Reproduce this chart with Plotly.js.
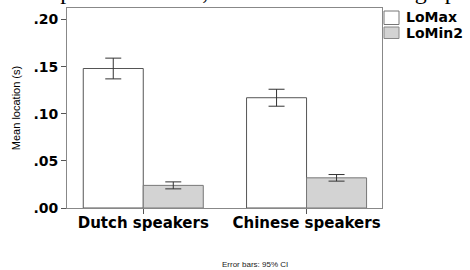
<!DOCTYPE html>
<html><head><meta charset="utf-8">
<script src="https://cdn.plot.ly/plotly-3.0.1.min.js"></script>
<style>html,body{margin:0;padding:0;background:#fff;}#chart{width:470px;height:270px;}</style>
</head><body><div id="chart"></div>
<script>
const categories = ["Dutch speakers", "Chinese speakers"];
const seriesNames = ["LoMax", "LoMin2"];
const seriesColors = ["#ffffff", "#d3d3d3"];
const loMax = [0.148, 0.117];
const loMaxErr = [0.011, 0.009];
const loMin2 = [0.024, 0.032];
const loMin2Err = [0.0037, 0.0035];
const yTickVals = [0, 0.05, 0.10, 0.15, 0.20];
const yTickText = [".00", ".05", ".10", ".15", ".20"];

const traces = [
  {type:'bar', name:seriesNames[0], x:categories, y:loMax,
   marker:{color:seriesColors[0], line:{color:'#555555', width:1}},
   error_y:{type:'data', array:loMaxErr, visible:true, color:'#333333', thickness:1, width:8}},
  {type:'bar', name:seriesNames[1], x:categories, y:loMin2,
   marker:{color:seriesColors[1], line:{color:'#777777', width:1}},
   error_y:{type:'data', array:loMin2Err, visible:true, color:'#333333', thickness:1, width:8}}
];

// custom legend (paper pixels -> paper fractions)
const L = 67, W = 315, T = 8, H = 200;
const px = x => (x - L) / W;
const py = y => 1 - (y - T) / H;
const legendShapes = [
  {type:'rect', xref:'paper', yref:'paper', x0:px(384), x1:px(399), y0:py(24.5), y1:py(11), fillcolor:seriesColors[0], line:{color:'#777', width:1}},
  {type:'rect', xref:'paper', yref:'paper', x0:px(384), x1:px(399), y0:py(38.5), y1:py(27), fillcolor:seriesColors[1], line:{color:'#888', width:1}}
];
const legendText = [
  {text:seriesNames[0], xref:'paper', yref:'paper', x:px(403.5), y:py(17.5), xanchor:'left', yanchor:'middle', showarrow:false,
   font:{family:'DejaVu Sans', size:14, weight:'bold', color:'#000'}},
  {text:seriesNames[1], xref:'paper', yref:'paper', x:px(403.5), y:py(33), xanchor:'left', yanchor:'middle', showarrow:false,
   font:{family:'DejaVu Sans', size:14, weight:'bold', color:'#000'}}
];

const layout = {
  width:470, height:270,
  margin:{l:67, r:88, t:8, b:62},
  paper_bgcolor:'#ffffff', plot_bgcolor:'#ffffff',
  barmode:'group', bargap:0.265, bargroupgap:0,
  showlegend:false,
  xaxis:{range:[-0.467, 1.462], showline:true, linecolor:'#888888', linewidth:1, mirror:true,
         ticks:'outside', ticklen:5, tickcolor:'#555555', showgrid:false, zeroline:false, ticklabelstandoff:-4,
         tickfont:{family:'DejaVu Sans', size:15, weight:'bold', color:'#000'}, fixedrange:true},
  yaxis:{range:[0, 0.2122], tickvals:yTickVals, ticktext:yTickText, showline:true, linecolor:'#888888',
         linewidth:1, mirror:true, ticks:'outside', ticklen:5, tickcolor:'#555555', showgrid:false, zeroline:false,
         tickfont:{family:'DejaVu Sans', size:14, weight:'bold', color:'#000'},
         title:{text:'Mean location (s)', font:{family:'Liberation Sans', size:11, color:'#000'}, standoff:10}},
  shapes: legendShapes,
  annotations:[
    ...legendText,
    {text:'Error bars: 95% CI', xref:'paper', yref:'paper', x:px(255), y:py(264), xanchor:'center', yanchor:'middle',
     showarrow:false, font:{family:'Liberation Sans', size:8, color:'#222'}},
    {text:'ree of pitch elevation, as well as low and high po', xref:'paper', yref:'paper', x:px(-3), y:1.086,
     xanchor:'left', yanchor:'middle', showarrow:false, font:{family:'Liberation Serif', size:24, color:'#000'}}
  ]
};
Plotly.newPlot('chart', traces, layout, {displayModeBar:false, staticPlot:true});
</script></body></html>
